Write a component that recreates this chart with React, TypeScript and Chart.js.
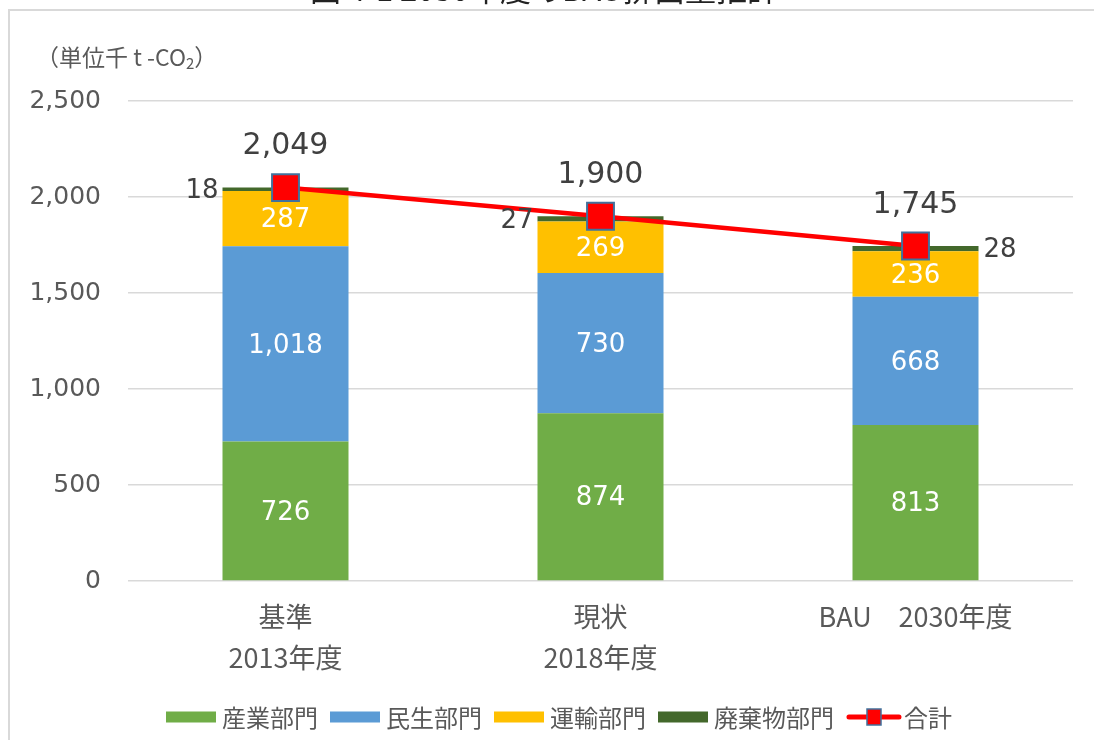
import React, { useEffect, useRef } from "react";
import { Chart, registerables } from "chart.js";

Chart.register(...registerables);

// ---- data ----
const categories: string[][] = [["基準", "2013年度"], ["現状", "2018年度"], ["BAU　2030年度"]];
const industry = [726, 874, 813];
const residential = [1018, 730, 668];
const transport = [287, 269, 236];
const waste = [18, 27, 28];
const total = [2049, 1900, 1745];
const yTicks = [0, 500, 1000, 1500, 2000, 2500];
const seriesNames = ["産業部門", "民生部門", "運輸部門", "廃棄物部門", "合計"];
const titleText = "図 4-1 2030年度のBAU排出量推計";
const unitText = "（単位千 t -CO";

const wasteLabelSide = ["left", "left", "right"];

const fmt = (n: number) => n.toLocaleString("en-US");
const NUM_FONT = '"DejaVu Sans", sans-serif';
const JP_FONT = '"Noto Sans CJK JP", sans-serif';
const GREY = "#595959";

const overlay = {
  id: "overlay",
  beforeDraw(chart: any) {
    const ctx: CanvasRenderingContext2D = chart.ctx;
    ctx.save();
    // frame
    ctx.strokeStyle = "#d9d9d9";
    ctx.lineWidth = 2;
    ctx.beginPath();
    ctx.moveTo(9, 740);
    ctx.lineTo(9, 10);
    ctx.lineTo(1094, 10);
    ctx.stroke();
    // partially visible title
    ctx.fillStyle = "#222";
    ctx.font = `31px ${JP_FONT}`;
    ctx.textAlign = "center";
    ctx.textBaseline = "alphabetic";
    ctx.fillText(titleText, 544, 1);
    // unit label
    ctx.fillStyle = GREY;
    ctx.font = `23px ${JP_FONT}`;
    ctx.textAlign = "left";
    ctx.textBaseline = "middle";
    let ux = 36;
    const uy = 57;
    ctx.fillText(unitText, ux, uy);
    ux += ctx.measureText(unitText).width;
    ctx.font = `15px ${JP_FONT}`;
    ctx.fillText("2", ux, uy + 6);
    ux += ctx.measureText("2").width;
    ctx.font = `23px ${JP_FONT}`;
    ctx.fillText("）", ux, uy);
    ctx.restore();
  },
  afterDatasetsDraw(chart: any) {
    const ctx: CanvasRenderingContext2D = chart.ctx;
    ctx.save();
    ctx.textBaseline = "middle";
    // inner labels
    for (let d = 0; d < 3; d++) {
      const meta = chart.getDatasetMeta(d);
      const vals = chart.data.datasets[d].data as number[];
      meta.data.forEach((el: any, i: number) => {
        const { x, y, base } = el.getProps(["x", "y", "base"], true);
        ctx.fillStyle = "#ffffff";
        ctx.font = `26px ${NUM_FONT}`;
        ctx.textAlign = "center";
        ctx.fillText(fmt(vals[i]), x, (y + base) / 2 + 2);
      });
    }
    // waste labels outside
    {
      const meta = chart.getDatasetMeta(3);
      const vals = chart.data.datasets[3].data as number[];
      meta.data.forEach((el: any, i: number) => {
        const { x, y, base, width } = el.getProps(["x", "y", "base", "width"], true);
        ctx.fillStyle = "#404040";
        ctx.font = `26px ${NUM_FONT}`;
        const cy = (y + base) / 2 + 2;
        if (wasteLabelSide[i] === "left") {
          ctx.textAlign = "right";
          ctx.fillText(fmt(vals[i]), x - width / 2 - 4, cy);
        } else {
          ctx.textAlign = "left";
          ctx.fillText(fmt(vals[i]), x + width / 2 + 5, cy);
        }
      });
    }
    // totals
    {
      const meta = chart.getDatasetMeta(4);
      const vals = chart.data.datasets[4].data as number[];
      meta.data.forEach((el: any, i: number) => {
        ctx.fillStyle = "#404040";
        ctx.font = `30px ${NUM_FONT}`;
        ctx.textAlign = "center";
        ctx.fillText(fmt(vals[i]), el.x, el.y - 41);
      });
    }
    ctx.restore();
  },
  afterDraw(chart: any) {
    const ctx: CanvasRenderingContext2D = chart.ctx;
    const xs = chart.scales.x;
    ctx.save();
    // x labels
    ctx.fillStyle = GREY;
    ctx.font = `27px ${JP_FONT}`;
    ctx.textBaseline = "middle";
    ctx.textAlign = "center";
    (chart.data.labels as string[][]).forEach((lab, i) => {
      const x = xs.getPixelForValue(i);
      lab.forEach((line, j) => {
        ctx.fillText(line, x, 617 + j * 41);
      });
    });
    // legend
    const ly = 717;
    let lx = 166;
    ctx.font = `24px ${JP_FONT}`;
    ctx.textAlign = "left";
    const ds = chart.data.datasets;
    for (let d = 0; d < 4; d++) {
      ctx.fillStyle = ds[d].backgroundColor;
      ctx.fillRect(lx, ly - 5.5, 50, 11);
      lx += 56;
      ctx.fillStyle = GREY;
      ctx.fillText(ds[d].label, lx, ly + 1);
      lx += ctx.measureText(ds[d].label).width + 12;
    }
    // line legend
    ctx.strokeStyle = ds[4].borderColor;
    ctx.lineWidth = 5;
    ctx.lineCap = "round";
    ctx.beginPath();
    ctx.moveTo(lx + 3, ly);
    ctx.lineTo(lx + 53, ly);
    ctx.stroke();
    ctx.fillStyle = ds[4].pointBackgroundColor;
    ctx.strokeStyle = ds[4].pointBorderColor;
    ctx.lineWidth = 1.5;
    ctx.fillRect(lx + 21, ly - 8, 14, 16);
    ctx.strokeRect(lx + 21, ly - 8, 14, 16);
    lx += 58;
    ctx.fillStyle = GREY;
    ctx.fillText(ds[4].label, lx, ly + 1);
    ctx.restore();
  },
};

export default function App() {
  const ref = useRef<HTMLCanvasElement | null>(null);
  useEffect(() => {
    if (!ref.current) return;
    const chart = new Chart(ref.current, {
      type: "bar",
      data: {
        labels: categories as any,
        datasets: [
          { type: "bar", label: seriesNames[0], data: industry, backgroundColor: "#70ad47", order: 1, barPercentage: 0.8, categoryPercentage: 0.5 } as any,
          { type: "bar", label: seriesNames[1], data: residential, backgroundColor: "#5b9bd5", order: 1, barPercentage: 0.8, categoryPercentage: 0.5 },
          { type: "bar", label: seriesNames[2], data: transport, backgroundColor: "#ffc000", order: 1, barPercentage: 0.8, categoryPercentage: 0.5 },
          { type: "bar", label: seriesNames[3], data: waste, backgroundColor: "#43682b", order: 1, barPercentage: 0.8, categoryPercentage: 0.5 },
          {
            type: "line",
            label: seriesNames[4],
            data: total,
            stack: "line",
            order: 0,
            borderColor: "#ff0000",
            backgroundColor: "#ff0000",
            borderWidth: 4.5,
            pointStyle: "rect",
            pointRadius: 19,
            pointBackgroundColor: "#ff0000",
            pointBorderColor: "#41719c",
            pointBorderWidth: 2,
            tension: 0,
          },
        ],
      },
      options: {
        animation: false,
        responsive: true,
        maintainAspectRatio: false,
        layout: { padding: { top: 101, right: 16, left: 0, bottom: 0 } },
        plugins: { legend: { display: false }, tooltip: { enabled: false }, title: { display: false } },
        scales: {
          x: {
            stacked: true,
            grid: { display: false },
            border: { display: false },
            ticks: { display: false },
            afterFit: (s: any) => { s.height = 159; },
          },
          y: {
            stacked: true,
            min: 0,
            max: 2500,
            afterBuildTicks: (s: any) => { s.ticks = yTicks.map((v) => ({ value: v })); },
            grid: { color: "#d9d9d9", lineWidth: 1.5, drawTicks: false },
            border: { display: false },
            ticks: {
              padding: 27,
              color: GREY,
              font: { family: "DejaVu Sans", size: 25 },
              callback: (v: any) => fmt(Number(v)),
            },
            afterFit: (s: any) => { s.width = 128; },
          },
        },
      } as any,
      plugins: [overlay],
    });
    return () => chart.destroy();
  }, []);
  return (
    <div style={{ position: "absolute", left: 0, top: 0, width: 1094, height: 740, background: "#fff" }}>
      <canvas ref={ref} />
    </div>
  );
}
